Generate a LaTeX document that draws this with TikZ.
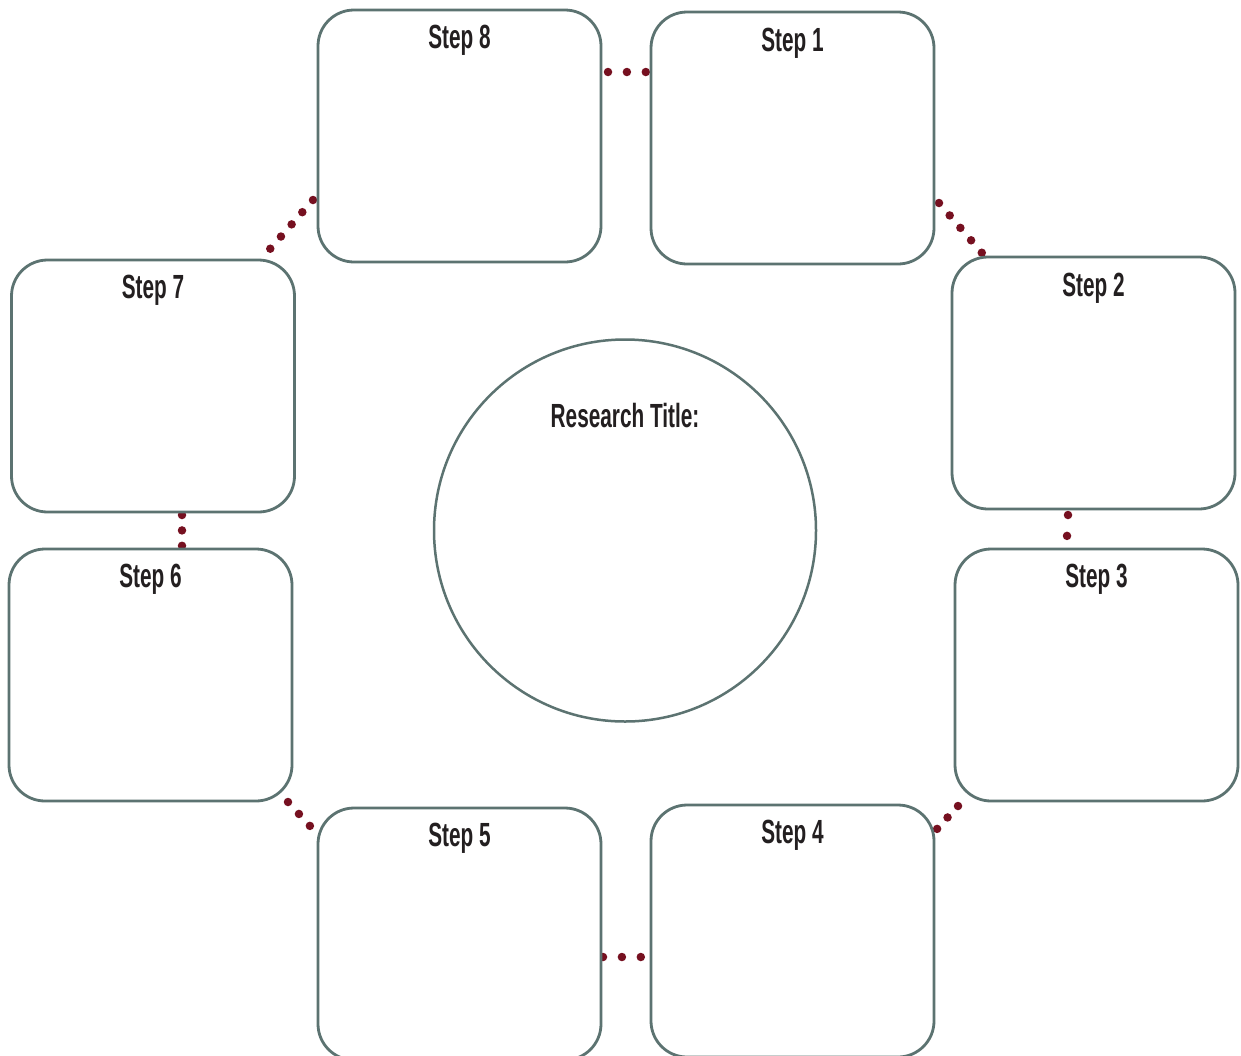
\documentclass[tikz,border=0pt]{standalone}
\usepackage{fontspec}
\setmainfont{Liberation Sans}[FakeStretch=0.62]
\definecolor{boxline}{RGB}{92,115,113}
\definecolor{dotred}{RGB}{118,16,32}
\definecolor{txt}{RGB}{35,31,32}
\tikzset{
  stepbox/.style={draw=boxline, line width=2.8pt, fill=white, rounded corners=36pt,
    minimum width=283pt, minimum height=252pt, inner sep=0pt},
  steplabel/.style={anchor=base, inner sep=0pt, text=txt, font=\fontsize{33.5}{36}\selectfont\bfseries},
  dotline/.style={draw=dotred, line width=8.5pt, line cap=round},
}
\begin{document}
\begin{tikzpicture}[x=1pt,y=-1pt]
\clip (0,0) rectangle (1241,1055);
\fill[white] (0,0) rectangle (1241,1055);
% connector end points
\coordinate (c81a) at (608,72);   \coordinate (c81b) at (646,72);
\coordinate (c12a) at (939,203);  \coordinate (c12b) at (982,253);
\coordinate (c23a) at (1068,515); \coordinate (c23b) at (1067,536);
\coordinate (c34a) at (958,806);  \coordinate (c34b) at (937,829);
\coordinate (c45a) at (603,957);  \coordinate (c45b) at (641,957);
\coordinate (c56a) at (288,802);  \coordinate (c56b) at (310,826);
\coordinate (c67a) at (182,515);  \coordinate (c67b) at (182,546);
\coordinate (c78a) at (313,200);  \coordinate (c78b) at (270,249);
% dotted connectors
\draw[dotline, dash pattern=on 0pt off 18.9pt] (c81a) -- (c81b);
\draw[dotline, dash pattern=on 0pt off 16.4pt] (c12a) -- (c12b);
\draw[dotline, dash pattern=on 0pt off 20.9pt] (c23a) -- (c23b);
\draw[dotline, dash pattern=on 0pt off 15.5pt] (c34a) -- (c34b);
\draw[dotline, dash pattern=on 0pt off 18.9pt] (c45a) -- (c45b);
\draw[dotline, dash pattern=on 0pt off 16.2pt] (c56a) -- (c56b);
\draw[dotline, dash pattern=on 0pt off 15.4pt] (c67a) -- (c67b);
\draw[dotline, dash pattern=on 0pt off 16.2pt] (c78a) -- (c78b);
% boxes
\node[stepbox] (s8) at (459.5,136) {};
\node[stepbox] (s1) at (792.5,138) {};
\node[stepbox] (s2) at (1093.5,383) {};
\node[stepbox] (s3) at (1096.5,675) {};
\node[stepbox] (s4) at (792.5,931) {};
\node[stepbox] (s5) at (459.5,934) {};
\node[stepbox] (s6) at (150.5,675) {};
\node[stepbox] (s7) at (153,386) {};
% labels
\node[steplabel] (l8) at ([yshift=-40pt]s8.north) {Step 8};
\node[steplabel] (l1) at ([yshift=-41pt]s1.north) {Step 1};
\node[steplabel] (l2) at ([yshift=-41pt]s2.north) {Step 2};
\node[steplabel] (l3) at ([yshift=-40pt]s3.north) {Step 3};
\node[steplabel] (l4) at ([yshift=-40pt]s4.north) {Step 4};
\node[steplabel] (l5) at ([yshift=-40pt]s5.north) {Step 5};
\node[steplabel] (l6) at ([yshift=-40pt]s6.north) {Step 6};
\node[steplabel] (l7) at ([yshift=-40pt]s7.north) {Step 7};
% centre circle
\node[draw=boxline, line width=2.5pt, circle, minimum size=382pt, inner sep=0pt, fill=white] (rc) at (625,530.5) {};
\node[steplabel] (rt) at (625,427) {Research Title:};
\end{tikzpicture}
\end{document}
